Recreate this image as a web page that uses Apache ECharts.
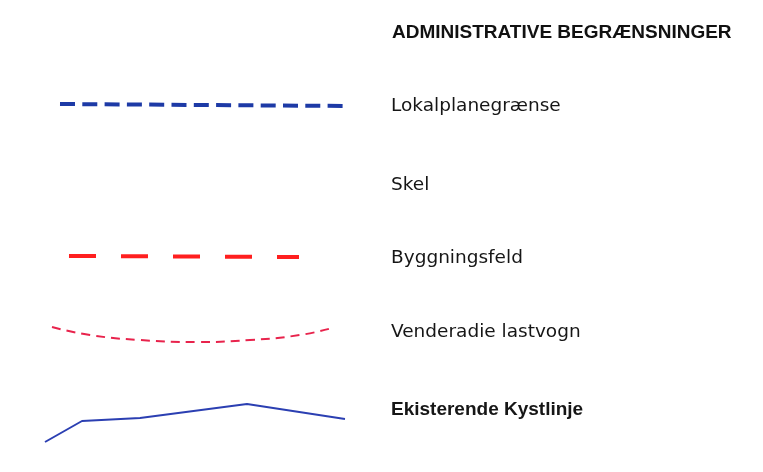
<!DOCTYPE html>
<html>
<head>
<meta charset="utf-8">
<script src="https://cdn.jsdelivr.net/npm/echarts@6/dist/echarts.min.js"></script>
<style>
  html, body { margin: 0; padding: 0; background: #fff; }
  #chart { width: 763px; height: 472px; }
</style>
</head>
<body>
<div id="chart"></div>
<script>
(function() {
    'use strict';
    // legend rows (labels + line samples), plotted in a hidden 763 x 472 value grid
    var titleText = 'ADMINISTRATIVE BEGRÆNSNINGER';
    var rowNames = ['Lokalplanegrænse', 'Skel', 'Byggningsfeld', 'Venderadie lastvogn', 'Ekisterende Kystlinje'];
    var rowY = [106, 185, 258, 332, 410];

    var lokalplanX = [60, 348];
    var lokalplanY = [104, 106];

    var byggX = [69, 299];
    var byggY = [256, 257];

    var vendeX = [52, 90, 140, 197, 250, 300, 332];
    var vendeY = [327, 335, 340, 342, 340, 335, 328];

    var kystX = [45, 82, 140, 247, 345];
    var kystY = [442, 421, 418, 404, 419];

    function pairs(xs, ys) {
        var out = [];
        for (var i = 0; i < xs.length; i++) {
            out.push([xs[i], ys[i]]);
        }
        return out;
    }

    var chart = echarts.init(document.getElementById('chart'), null, { renderer: 'canvas' });
    var option = {
        backgroundColor: '#ffffff',
        animation: false,
        title: {
            text: titleText,
            left: 392,
            top: 23,
            padding: 0,
            textStyle: {
                fontFamily: 'Liberation Sans',
                fontWeight: 'bold',
                fontSize: 19,
                color: '#111111'
            }
        },
        grid: { left: 0, right: 0, top: 0, bottom: 0 },
        xAxis: { type: 'value', min: 0, max: 763, show: false },
        yAxis: { type: 'value', min: 0, max: 472, inverse: true, show: false },
        series: [{
                name: rowNames[0],
                type: 'line',
                data: pairs(lokalplanX, lokalplanY),
                symbol: 'none',
                lineStyle: { color: '#1d3aa6', width: 4, type: [15, 7.3] }
            },
            {
                name: rowNames[2],
                type: 'line',
                data: pairs(byggX, byggY),
                symbol: 'none',
                lineStyle: { color: '#ff1f1f', width: 4, type: [27, 25] }
            },
            {
                name: rowNames[3],
                type: 'line',
                data: pairs(vendeX, vendeY),
                smooth: true,
                symbol: 'none',
                lineStyle: { color: '#e8234c', width: 2, type: [9, 6] }
            },
            {
                name: rowNames[4],
                type: 'line',
                data: pairs(kystX, kystY),
                symbol: 'none',
                lineStyle: { color: '#2b3fb2', width: 2 }
            }
        ]
    };
    chart.setOption(option);

    // row labels, placed through the same hidden axes
    var texts = [];
    for (var i = 0; i < rowNames.length; i++) {
        var bold = i === rowNames.length - 1;
        var p = chart.convertToPixel({ gridIndex: 0 }, [391, rowY[i]]);
        texts.push({
            type: 'text',
            x: p[0],
            y: p[1],
            silent: true,
            style: {
                text: rowNames[i],
                fill: '#161616',
                font: (bold ? 'bold 19px "Liberation Sans"' : '18.5px "DejaVu Sans"'),
                verticalAlign: 'middle'
            }
        });
    }
    chart.setOption({ graphic: texts });
})();
</script>
</body>
</html>
